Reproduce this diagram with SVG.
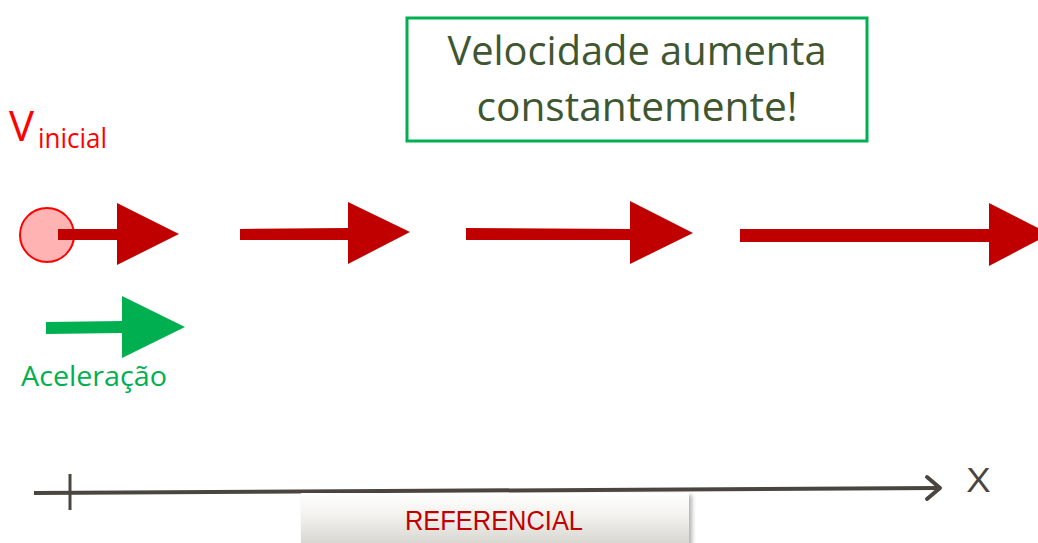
<svg xmlns="http://www.w3.org/2000/svg" width="1038" height="543" viewBox="0 0 1038 543">
<defs>
<style>
.vel{fill:#C00000}
.t{font-family:"Open Sans","Liberation Sans",sans-serif}
</style>
<linearGradient id="refg" x1="0" y1="0" x2="0" y2="1">
<stop offset="0" stop-color="#ffffff"/>
<stop offset="0.4" stop-color="#f3f2ee"/>
<stop offset="1" stop-color="#d4d2cd"/>
</linearGradient>
<filter id="sh" x="-5%" y="-20%" width="115%" height="150%">
<feDropShadow dx="3" dy="2" stdDeviation="2" flood-color="#000" flood-opacity="0.3"/>
</filter>
</defs>
<rect width="1038" height="543" fill="#fff"/>

<g id="title">
<rect x="407" y="18" width="460" height="123" fill="#fff" stroke="#00B050" stroke-width="3"/>
<text class="t" x="637" y="65" font-size="40" fill="#3F5731" text-anchor="middle" textLength="379" lengthAdjust="spacingAndGlyphs">Velocidade aumenta</text>
<text class="t" x="637" y="121" font-size="40" fill="#3F5731" text-anchor="middle" textLength="321" lengthAdjust="spacingAndGlyphs">constantemente!</text>
</g>

<g id="vinicial">
<text class="t" x="9" y="141" font-size="42" fill="#FF0000">V</text>
<text class="t" x="38" y="148" font-size="27" fill="#FF0000" textLength="69" lengthAdjust="spacingAndGlyphs">inicial</text>
</g>

<g id="particle">
<circle cx="47" cy="235" r="27" fill="#FFB3B3" stroke="#FF0000" stroke-width="2"/>
</g>

<g id="velocities">
<polygon class="vel" points="58,229 117,229 117,203 179,234 117,265 117,240 58,240"/>
<polygon class="vel" points="240,229 348,228 348,202 410,232 348,264 348,240 240,240"/>
<polygon class="vel" points="466,228 630,229 630,201 693,233 630,264 630,240 466,240"/>
<polygon class="vel" points="740,229 989,229 989,203 1050,234 989,266 989,242 740,242"/>
</g>

<g id="aceleracao">
<polygon fill="#00B050" points="46,322 122,321 122,296 185,327 122,358 122,333 46,334"/>
<text class="t" x="21" y="386" font-size="27" fill="#00B050" textLength="146" lengthAdjust="spacingAndGlyphs">Aceleração</text>
</g>

<g id="connectors">
<line x1="34" y1="493" x2="938" y2="488" stroke="#4A453F" stroke-width="4"/>
<line x1="70" y1="474" x2="70" y2="510" stroke="#4A453F" stroke-width="3"/>
<polyline points="927,477 940,488 927,499" fill="none" stroke="#4A453F" stroke-width="4" stroke-linecap="round" stroke-linejoin="round"/>
</g>

<g id="eixo-x">
<text class="t" x="967" y="492" font-size="33" fill="#4A453F" textLength="23" lengthAdjust="spacingAndGlyphs">X</text>
</g>

<g id="referencial">
<rect x="301" y="493" width="388" height="55" fill="url(#refg)" filter="url(#sh)"/>
<text x="494" y="530" font-family="'Liberation Sans',sans-serif" font-size="27" fill="#C00000" text-anchor="middle" textLength="178" lengthAdjust="spacingAndGlyphs">REFERENCIAL</text>
</g>
</svg>
